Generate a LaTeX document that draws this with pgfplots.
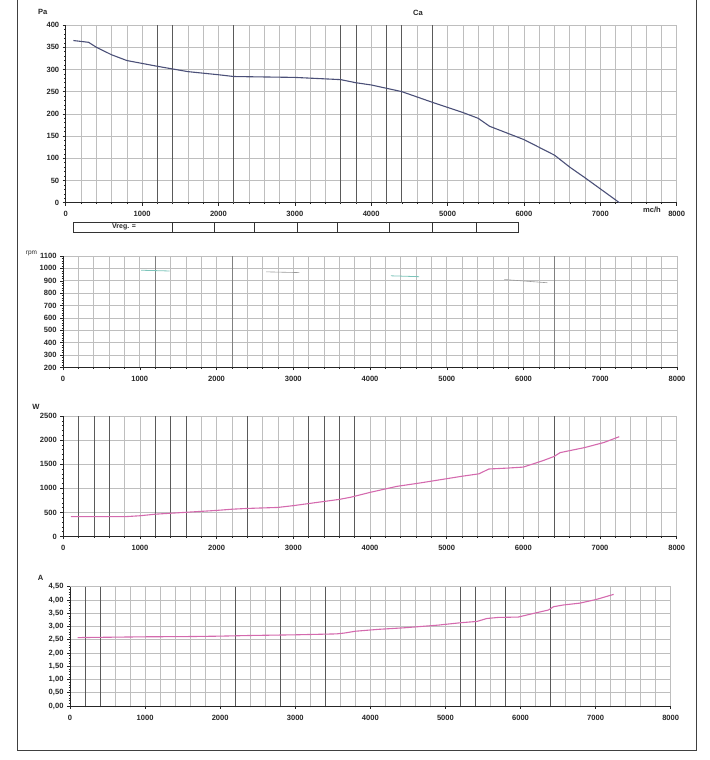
\documentclass[border=0pt]{standalone}
\usepackage{pgfplots}
\pgfplotsset{compat=1.18}
\usepackage{fontspec}
\setmainfont{Liberation Sans}
\definecolor{pacol}{HTML}{4B5078}
\definecolor{pwcol}{HTML}{D46AAE}
\definecolor{tealc}{HTML}{7CC4BA}
\definecolor{grayc}{HTML}{9A9A9A}
\definecolor{gridc}{HTML}{BEBEBE}
\definecolor{darkgrid}{HTML}{5A5A5A}
\pgfplotsset{
  panel/.style={
    scale only axis, xmin=0, xmax=8000,
    axis lines*=left,
    axis line style={black!85, line width=0.8bp},
    xtick={0,1000,...,8000}, minor xtick={0,200,...,8000},
    xmajorgrids=true, xminorgrids=true, ymajorgrids=true, yminorgrids=false,
    major grid style={draw=gridc, line width=0.6bp},
    minor grid style={draw=gridc, line width=0.6bp},
    tick align=outside, major tick length=3bp, minor tick length=1.5bp,
    tick style={black!85, line width=0.5bp},
    ticklabel style={font=\fontsize{7.6}{8}\selectfont\bfseries, text=black!85},
    xticklabel style={yshift=-2.5bp},
    /pgf/number format/assume math mode=true,
    /pgf/number format/1000 sep={},
    clip=false,
    extra x tick labels={},
    extra x tick style={xmajorgrids=true, major grid style={draw=darkgrid, line width=0.8bp}, major tick length=0pt},
  }
}
\begin{document}
\begin{tikzpicture}
% ---------- Pa ----------
\begin{axis}[panel, at={(65.7bp,557.3bp)}, anchor=south west, width=611bp, height=177.7bp,
  ymin=0, ymax=400, ytick={0,50,...,400}, minor y tick num=4,
  extra x ticks={1200,1400,2200,3600,3800,4200,4400,4800}]
\addplot[pacol, line width=1.1bp] coordinates {
(100,365)(300,361)(400,350)(600,333)(800,320)(1200,307)(1400,301)(1600,295)(2000,288)(2200,284)(3000,282)(3600,277)(3800,270)(4000,265)(4400,250)(4800,226)(5200,203)(5400,190)(5550,172)(6000,142)(6400,107)(6600,80)(6800,56)(7250,0)};
\end{axis}
% ---------- rpm ----------
\begin{axis}[panel, at={(63bp,392.5bp)}, anchor=south west, width=614bp, height=111.5bp,
  ymin=200, ymax=1100, ytick={200,300,...,1100}, minor y tick num=4,
  extra x ticks={1200,2200,6400},
  extra x tick style={xmajorgrids=true, major grid style={draw=black!50, line width=0.7bp}, major tick length=0pt}]
\addplot[tealc, line width=0.8bp] coordinates {(1018,985)(1390,979)};
\addplot[grayc, line width=0.6bp] coordinates {(2646,972)(3080,966)};
\addplot[tealc, line width=0.8bp] coordinates {(4273,940)(4640,933)};
\addplot[grayc, line width=0.6bp] coordinates {(5750,910)(6310,884)};
\end{axis}
% ---------- W ----------
\begin{axis}[panel, at={(63.3bp,223.5bp)}, anchor=south west, width=613.4bp, height=120.5bp,
  ymin=0, ymax=2500, ytick={0,500,...,2500}, minor y tick num=4,
  extra x ticks={200,400,600,1200,1400,1600,2400,3200,3400,3600,3800,6400}]
\addplot[pwcol, line width=1.1bp] coordinates {
(100,411)(800,411)(1000,430)(1200,463)(1600,502)(2000,541)(2200,566)(2400,582)(2800,603)(3000,640)(3300,705)(3600,770)(3750,815)(4000,915)(4350,1040)(4650,1110)(5000,1199)(5200,1250)(5420,1300)(5550,1400)(5800,1420)(6000,1440)(6250,1570)(6400,1660)(6480,1740)(6600,1780)(6800,1845)(7050,1950)(7250,2070)};
\end{axis}
% ---------- A ----------
\begin{axis}[panel, at={(70bp,54bp)}, anchor=south west, width=600.7bp, height=119.3bp,
  ymin=0, ymax=4.5, ytick={0,0.5,...,4.5}, minor y tick num=4,
  yticklabel style={/pgf/number format/.cd, fixed, fixed zerofill, precision=2, use comma},
  extra x ticks={200,400,2200,2800,3400,5200,5400,5800,6400}]
\addplot[pwcol, line width=1.1bp] coordinates {
(100,2.58)(1000,2.61)(1600,2.62)(2000,2.635)(2400,2.66)(3000,2.685)(3550,2.72)(3650,2.75)(3800,2.82)(4100,2.89)(4450,2.95)(4900,3.05)(5200,3.14)(5420,3.19)(5550,3.30)(5700,3.34)(5970,3.355)(6170,3.49)(6370,3.62)(6440,3.745)(6570,3.81)(6790,3.88)(7010,4.02)(7240,4.21)};
\end{axis}
\begin{scope}[x=1bp,y=1bp]
% ---------- texts ----------
\begin{scope}[every node/.style={font=\fontsize{7.6}{8}\selectfont\bfseries, text=black!85, inner sep=0pt}]
\node at (42.7,748.3) {Pa};
\node at (418,747.3) {Ca};
\node at (652,550) {mc/h};
\node[font=\fontsize{6.5}{7}\selectfont] at (31.5,506.5) {rpm};
\node at (36,353.3) {W};
\node at (40.7,181.7) {A};
\end{scope}
% ---------- Vreg table ----------
\draw[black!80, line width=0.7bp] (73,528) rectangle (518,538);
\foreach \xx in {172,214,254,297,337,389,432,476} {\draw[black!80, line width=0.7bp] (\xx,528) -- (\xx,538);}
\node[font=\fontsize{7}{7}\selectfont\bfseries, text=black!85, inner sep=0pt] at (124,533) {Vreg. =};
% ---------- outer frame ----------
\draw[black!75, line width=0.8bp] (17.3,760) -- (17.3,10) -- (696.7,10) -- (696.7,760);
\pgfresetboundingbox
\path[use as bounding box] (0,0) rectangle (710,760);
\end{scope}
\end{tikzpicture}
\end{document}
